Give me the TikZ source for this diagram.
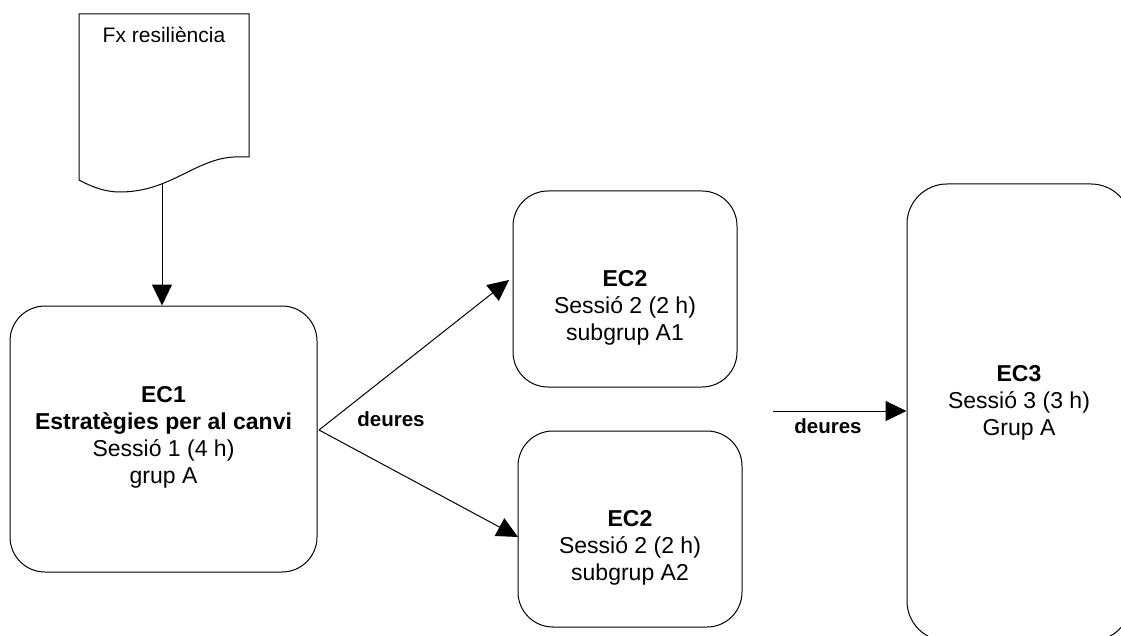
\documentclass[tikz,border=0pt]{standalone}
\usepackage{fontspec}
\setmainfont{Liberation Sans}
\usetikzlibrary{arrows.meta}
\begin{document}
\begin{tikzpicture}[x=1pt,y=-1pt,
  box/.style={draw, line width=1pt, rounded corners=35pt, inner sep=0pt},
  arr/.style={line width=1pt, -{Triangle[length=21pt,width=20pt]}},
  txt/.style={align=center, font=\fontsize{23}{27}\selectfont, inner sep=0pt},
  lbl/.style={font=\fontsize{20.5}{24}\bfseries\selectfont, inner sep=0pt, anchor=base},
  doctxt/.style={font=\fontsize{21}{25}\selectfont, inner sep=0pt, anchor=base}]
\useasboundingbox (0,0) rectangle (1121,636);
\clip (0,0) rectangle (1121,636);
% document shape
\draw[line width=1pt] (79,14) -- (249,14) -- (249,157) -- (234,157)
  .. controls (195,159) and (170,192) .. (120,192)
  .. controls (105,192) and (92,187) .. (79,180) -- cycle;
\node[doctxt] (doc) at (164,43) {Fx resiliència};
\coordinate (docb) at (162,183);
% boxes
\node[box, minimum width=307pt, minimum height=266pt] (ec1) at (163.5,439) {};
\node[box, minimum width=224pt, minimum height=196pt] (ec2a) at (625,289) {};
\node[box, minimum width=224pt, minimum height=196pt] (ec2b) at (630,529) {};
\node[box, rounded corners=40pt, minimum width=224pt, minimum height=457pt] (ec3) at (1019,412.5) {};
% texts
\node[txt] (ec1t) at (163.5,437) {\textbf{EC1}\\\textbf{Estratègies per al canvi}\\Sessió 1 (4 h)\\grup A};
\node[txt] (ec2at) at (625,307.5) {\textbf{EC2}\\Sessió 2 (2 h)\\subgrup A1};
\node[txt] (ec2bt) at (630,547.5) {\textbf{EC2}\\Sessió 2 (2 h)\\subgrup A2};
\node[txt] (ec3t) at (1019,402.5) {\textbf{EC3}\\Sessió 3 (3 h)\\Grup A};
% connectors
\draw[arr] (docb) -- (docb |- ec1.north);
\coordinate (s) at (319,430);
\coordinate (t1) at (509,280);
\coordinate (t2) at (518,537);
\draw[arr] (s) -- (t1);
\draw[arr] (s) -- (t2);
\coordinate (c3) at (773,411);
\draw[arr] (c3) -- (c3 -| ec3.west);
% labels
\node[lbl] (d1) at (391,426) {deures};
\node[lbl] (d2) at (828,433) {deures};
\end{tikzpicture}
\end{document}
